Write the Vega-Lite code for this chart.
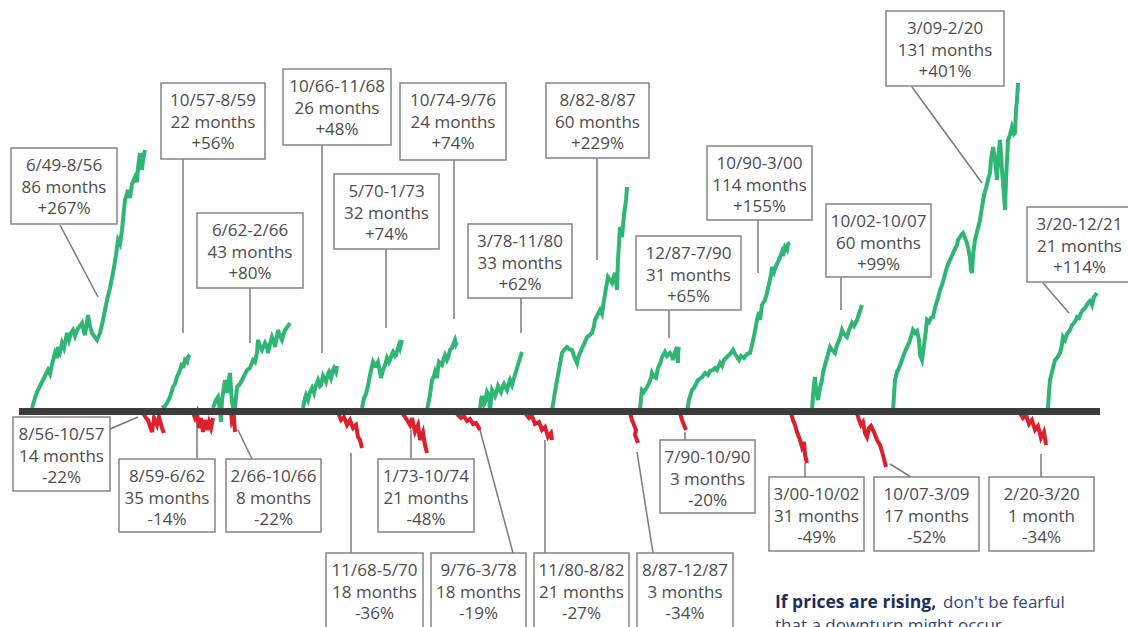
{
"$schema":"https://vega.github.io/schema/vega-lite/v6.json",
"width":1128,"height":627,"autosize":{"type":"none"},"padding":0,"background":"white",
"config":{"view":{"stroke":null}},
"datasets":{
"moves":[
{"m":"b1","k":"up","x":32,"y":408},{"m":"b1","k":"up","x":35,"y":398},{"m":"b1","k":"up","x":37,"y":392},{"m":"b1","k":"up","x":40,"y":386},{"m":"b1","k":"up","x":43,"y":380},{"m":"b1","k":"up","x":46,"y":374},{"m":"b1","k":"up","x":48,"y":370},{"m":"b1","k":"up","x":50,"y":374},{"m":"b1","k":"up","x":52,"y":364},{"m":"b1","k":"up","x":55,"y":353},{"m":"b1","k":"up","x":57,"y":358},{"m":"b1","k":"up","x":58,"y":347},{"m":"b1","k":"up","x":60,"y":352},{"m":"b1","k":"up","x":62,"y":343},{"m":"b1","k":"up","x":64,"y":348},{"m":"b1","k":"up","x":67,"y":333},{"m":"b1","k":"up","x":69,"y":340},{"m":"b1","k":"up","x":71,"y":333},{"m":"b1","k":"up","x":73,"y":330},{"m":"b1","k":"up","x":75,"y":336},{"m":"b1","k":"up","x":77,"y":330},{"m":"b1","k":"up","x":80,"y":326},{"m":"b1","k":"up","x":82,"y":323},{"m":"b1","k":"up","x":84,"y":332},{"m":"b1","k":"up","x":85,"y":335},{"m":"b1","k":"up","x":87,"y":322},{"m":"b1","k":"up","x":88,"y":315},{"m":"b1","k":"up","x":90,"y":326},{"m":"b1","k":"up","x":92,"y":333},{"m":"b1","k":"up","x":94,"y":336},{"m":"b1","k":"up","x":97,"y":340},{"m":"b1","k":"up","x":100,"y":333},{"m":"b1","k":"up","x":103,"y":320},{"m":"b1","k":"up","x":107,"y":300},{"m":"b1","k":"up","x":110,"y":288},{"m":"b1","k":"up","x":113,"y":273},{"m":"b1","k":"up","x":116,"y":255},{"m":"b1","k":"up","x":118,"y":240},{"m":"b1","k":"up","x":120,"y":244},{"m":"b1","k":"up","x":122,"y":230},{"m":"b1","k":"up","x":125,"y":200},{"m":"b1","k":"up","x":127,"y":194},{"m":"b1","k":"up","x":128,"y":190},{"m":"b1","k":"up","x":130,"y":198},{"m":"b1","k":"up","x":132,"y":184},{"m":"b1","k":"up","x":135,"y":177},{"m":"b1","k":"up","x":137,"y":182},{"m":"b1","k":"up","x":138,"y":168},{"m":"b1","k":"up","x":140,"y":153},{"m":"b1","k":"up","x":142,"y":170},{"m":"b1","k":"up","x":143,"y":160},{"m":"b1","k":"up","x":145,"y":150},
{"m":"b2","k":"up","x":162,"y":408},{"m":"b2","k":"up","x":165,"y":406},{"m":"b2","k":"up","x":167,"y":403},{"m":"b2","k":"up","x":170,"y":397},{"m":"b2","k":"up","x":173,"y":387},{"m":"b2","k":"up","x":175,"y":384},{"m":"b2","k":"up","x":177,"y":377},{"m":"b2","k":"up","x":180,"y":370},{"m":"b2","k":"up","x":182,"y":363},{"m":"b2","k":"up","x":183,"y":368},{"m":"b2","k":"up","x":185,"y":360},{"m":"b2","k":"up","x":187,"y":362},{"m":"b2","k":"up","x":188,"y":357},{"m":"b2","k":"up","x":190,"y":355},
{"m":"b3","k":"up","x":213,"y":408},{"m":"b3","k":"up","x":216,"y":400},{"m":"b3","k":"up","x":218,"y":397},{"m":"b3","k":"up","x":220,"y":410},{"m":"b3","k":"up","x":221,"y":422},{"m":"b3","k":"up","x":222,"y":400},{"m":"b3","k":"up","x":225,"y":380},{"m":"b3","k":"up","x":227,"y":393},{"m":"b3","k":"up","x":228,"y":385},{"m":"b3","k":"up","x":230,"y":373},{"m":"b3","k":"up","x":232,"y":403},{"m":"b3","k":"up","x":234,"y":410},{"m":"b3","k":"up","x":235,"y":408},{"m":"b3","k":"up","x":237,"y":387},{"m":"b3","k":"up","x":240,"y":384},{"m":"b3","k":"up","x":242,"y":380},{"m":"b3","k":"up","x":245,"y":374},{"m":"b3","k":"up","x":247,"y":370},{"m":"b3","k":"up","x":250,"y":368},{"m":"b3","k":"up","x":253,"y":360},{"m":"b3","k":"up","x":255,"y":362},{"m":"b3","k":"up","x":257,"y":353},{"m":"b3","k":"up","x":258,"y":340},{"m":"b3","k":"up","x":260,"y":346},{"m":"b3","k":"up","x":262,"y":350},{"m":"b3","k":"up","x":265,"y":343},{"m":"b3","k":"up","x":267,"y":347},{"m":"b3","k":"up","x":268,"y":353},{"m":"b3","k":"up","x":270,"y":344},{"m":"b3","k":"up","x":272,"y":337},{"m":"b3","k":"up","x":274,"y":342},{"m":"b3","k":"up","x":275,"y":347},{"m":"b3","k":"up","x":277,"y":336},{"m":"b3","k":"up","x":278,"y":330},{"m":"b3","k":"up","x":280,"y":336},{"m":"b3","k":"up","x":282,"y":340},{"m":"b3","k":"up","x":284,"y":333},{"m":"b3","k":"up","x":285,"y":330},{"m":"b3","k":"up","x":288,"y":326},{"m":"b3","k":"up","x":290,"y":323},
{"m":"b4","k":"up","x":303,"y":408},{"m":"b4","k":"up","x":305,"y":398},{"m":"b4","k":"up","x":306,"y":395},{"m":"b4","k":"up","x":308,"y":400},{"m":"b4","k":"up","x":310,"y":392},{"m":"b4","k":"up","x":312,"y":388},{"m":"b4","k":"up","x":314,"y":393},{"m":"b4","k":"up","x":316,"y":385},{"m":"b4","k":"up","x":318,"y":380},{"m":"b4","k":"up","x":320,"y":386},{"m":"b4","k":"up","x":321,"y":385},{"m":"b4","k":"up","x":323,"y":376},{"m":"b4","k":"up","x":326,"y":382},{"m":"b4","k":"up","x":328,"y":374},{"m":"b4","k":"up","x":329,"y":372},{"m":"b4","k":"up","x":331,"y":378},{"m":"b4","k":"up","x":333,"y":370},{"m":"b4","k":"up","x":334,"y":368},{"m":"b4","k":"up","x":336,"y":372},{"m":"b4","k":"up","x":337,"y":366},
{"m":"b5","k":"up","x":362,"y":408},{"m":"b5","k":"up","x":364,"y":398},{"m":"b5","k":"up","x":366,"y":394},{"m":"b5","k":"up","x":368,"y":386},{"m":"b5","k":"up","x":370,"y":375},{"m":"b5","k":"up","x":372,"y":366},{"m":"b5","k":"up","x":373,"y":362},{"m":"b5","k":"up","x":375,"y":366},{"m":"b5","k":"up","x":376,"y":366},{"m":"b5","k":"up","x":378,"y":362},{"m":"b5","k":"up","x":380,"y":372},{"m":"b5","k":"up","x":381,"y":378},{"m":"b5","k":"up","x":383,"y":370},{"m":"b5","k":"up","x":384,"y":368},{"m":"b5","k":"up","x":386,"y":362},{"m":"b5","k":"up","x":387,"y":358},{"m":"b5","k":"up","x":389,"y":362},{"m":"b5","k":"up","x":390,"y":360},{"m":"b5","k":"up","x":392,"y":354},{"m":"b5","k":"up","x":393,"y":352},{"m":"b5","k":"up","x":395,"y":356},{"m":"b5","k":"up","x":396,"y":355},{"m":"b5","k":"up","x":398,"y":348},{"m":"b5","k":"up","x":399,"y":345},{"m":"b5","k":"up","x":400,"y":348},{"m":"b5","k":"up","x":402,"y":340},
{"m":"b6","k":"up","x":427,"y":410},{"m":"b6","k":"up","x":429,"y":400},{"m":"b6","k":"up","x":430,"y":395},{"m":"b6","k":"up","x":432,"y":380},{"m":"b6","k":"up","x":434,"y":376},{"m":"b6","k":"up","x":435,"y":372},{"m":"b6","k":"up","x":437,"y":378},{"m":"b6","k":"up","x":438,"y":368},{"m":"b6","k":"up","x":439,"y":362},{"m":"b6","k":"up","x":441,"y":364},{"m":"b6","k":"up","x":442,"y":365},{"m":"b6","k":"up","x":444,"y":358},{"m":"b6","k":"up","x":445,"y":355},{"m":"b6","k":"up","x":447,"y":360},{"m":"b6","k":"up","x":448,"y":358},{"m":"b6","k":"up","x":450,"y":350},{"m":"b6","k":"up","x":452,"y":348},{"m":"b6","k":"up","x":453,"y":345},{"m":"b6","k":"up","x":455,"y":340},{"m":"b6","k":"up","x":456,"y":344},{"m":"b6","k":"up","x":457,"y":342},
{"m":"b7","k":"up","x":480,"y":410},{"m":"b7","k":"up","x":481,"y":400},{"m":"b7","k":"up","x":482,"y":396},{"m":"b7","k":"up","x":484,"y":404},{"m":"b7","k":"up","x":485,"y":402},{"m":"b7","k":"up","x":487,"y":392},{"m":"b7","k":"up","x":489,"y":396},{"m":"b7","k":"up","x":490,"y":413},{"m":"b7","k":"up","x":491,"y":398},{"m":"b7","k":"up","x":492,"y":390},{"m":"b7","k":"up","x":494,"y":394},{"m":"b7","k":"up","x":495,"y":396},{"m":"b7","k":"up","x":497,"y":390},{"m":"b7","k":"up","x":498,"y":386},{"m":"b7","k":"up","x":500,"y":390},{"m":"b7","k":"up","x":501,"y":392},{"m":"b7","k":"up","x":503,"y":386},{"m":"b7","k":"up","x":504,"y":384},{"m":"b7","k":"up","x":506,"y":388},{"m":"b7","k":"up","x":507,"y":390},{"m":"b7","k":"up","x":509,"y":383},{"m":"b7","k":"up","x":510,"y":380},{"m":"b7","k":"up","x":512,"y":385},{"m":"b7","k":"up","x":514,"y":378},{"m":"b7","k":"up","x":515,"y":375},{"m":"b7","k":"up","x":517,"y":368},{"m":"b7","k":"up","x":518,"y":365},{"m":"b7","k":"up","x":520,"y":358},{"m":"b7","k":"up","x":522,"y":352},
{"m":"b8","k":"up","x":552,"y":410},{"m":"b8","k":"up","x":554,"y":398},{"m":"b8","k":"up","x":557,"y":380},{"m":"b8","k":"up","x":559,"y":370},{"m":"b8","k":"up","x":562,"y":353},{"m":"b8","k":"up","x":564,"y":350},{"m":"b8","k":"up","x":567,"y":347},{"m":"b8","k":"up","x":569,"y":349},{"m":"b8","k":"up","x":572,"y":350},{"m":"b8","k":"up","x":574,"y":356},{"m":"b8","k":"up","x":577,"y":363},{"m":"b8","k":"up","x":578,"y":358},{"m":"b8","k":"up","x":580,"y":353},{"m":"b8","k":"up","x":583,"y":346},{"m":"b8","k":"up","x":585,"y":342},{"m":"b8","k":"up","x":587,"y":337},{"m":"b8","k":"up","x":590,"y":335},{"m":"b8","k":"up","x":592,"y":333},{"m":"b8","k":"up","x":594,"y":326},{"m":"b8","k":"up","x":595,"y":320},{"m":"b8","k":"up","x":597,"y":316},{"m":"b8","k":"up","x":600,"y":310},{"m":"b8","k":"up","x":602,"y":314},{"m":"b8","k":"up","x":604,"y":300},{"m":"b8","k":"up","x":606,"y":288},{"m":"b8","k":"up","x":608,"y":277},{"m":"b8","k":"up","x":610,"y":280},{"m":"b8","k":"up","x":612,"y":283},{"m":"b8","k":"up","x":614,"y":276},{"m":"b8","k":"up","x":615,"y":273},{"m":"b8","k":"up","x":617,"y":290},{"m":"b8","k":"up","x":618,"y":260},{"m":"b8","k":"up","x":620,"y":227},{"m":"b8","k":"up","x":622,"y":237},{"m":"b8","k":"up","x":624,"y":215},{"m":"b8","k":"up","x":626,"y":200},{"m":"b8","k":"up","x":627,"y":187},
{"m":"b9","k":"up","x":640,"y":410},{"m":"b9","k":"up","x":641,"y":398},{"m":"b9","k":"up","x":642,"y":390},{"m":"b9","k":"up","x":644,"y":392},{"m":"b9","k":"up","x":647,"y":387},{"m":"b9","k":"up","x":649,"y":383},{"m":"b9","k":"up","x":651,"y":378},{"m":"b9","k":"up","x":652,"y":373},{"m":"b9","k":"up","x":654,"y":377},{"m":"b9","k":"up","x":656,"y":378},{"m":"b9","k":"up","x":658,"y":368},{"m":"b9","k":"up","x":660,"y":364},{"m":"b9","k":"up","x":662,"y":357},{"m":"b9","k":"up","x":664,"y":354},{"m":"b9","k":"up","x":665,"y":352},{"m":"b9","k":"up","x":667,"y":356},{"m":"b9","k":"up","x":670,"y":353},{"m":"b9","k":"up","x":672,"y":356},{"m":"b9","k":"up","x":673,"y":360},{"m":"b9","k":"up","x":675,"y":352},{"m":"b9","k":"up","x":677,"y":347},{"m":"b9","k":"up","x":678,"y":363},{"m":"b9","k":"up","x":678,"y":352},{"m":"b9","k":"up","x":679,"y":347},
{"m":"b10","k":"up","x":687,"y":412},{"m":"b10","k":"up","x":689,"y":400},{"m":"b10","k":"up","x":692,"y":390},{"m":"b10","k":"up","x":694,"y":388},{"m":"b10","k":"up","x":696,"y":384},{"m":"b10","k":"up","x":698,"y":380},{"m":"b10","k":"up","x":701,"y":378},{"m":"b10","k":"up","x":703,"y":376},{"m":"b10","k":"up","x":705,"y":373},{"m":"b10","k":"up","x":708,"y":375},{"m":"b10","k":"up","x":710,"y":371},{"m":"b10","k":"up","x":713,"y":370},{"m":"b10","k":"up","x":715,"y":368},{"m":"b10","k":"up","x":717,"y":370},{"m":"b10","k":"up","x":720,"y":363},{"m":"b10","k":"up","x":722,"y":366},{"m":"b10","k":"up","x":724,"y":360},{"m":"b10","k":"up","x":727,"y":357},{"m":"b10","k":"up","x":729,"y":355},{"m":"b10","k":"up","x":731,"y":353},{"m":"b10","k":"up","x":733,"y":350},{"m":"b10","k":"up","x":735,"y":354},{"m":"b10","k":"up","x":737,"y":357},{"m":"b10","k":"up","x":739,"y":360},{"m":"b10","k":"up","x":741,"y":356},{"m":"b10","k":"up","x":744,"y":358},{"m":"b10","k":"up","x":747,"y":354},{"m":"b10","k":"up","x":750,"y":353},{"m":"b10","k":"up","x":752,"y":345},{"m":"b10","k":"up","x":754,"y":336},{"m":"b10","k":"up","x":757,"y":320},{"m":"b10","k":"up","x":759,"y":312},{"m":"b10","k":"up","x":760,"y":320},{"m":"b10","k":"up","x":762,"y":305},{"m":"b10","k":"up","x":765,"y":300},{"m":"b10","k":"up","x":767,"y":293},{"m":"b10","k":"up","x":769,"y":284},{"m":"b10","k":"up","x":771,"y":275},{"m":"b10","k":"up","x":772,"y":267},{"m":"b10","k":"up","x":774,"y":272},{"m":"b10","k":"up","x":776,"y":266},{"m":"b10","k":"up","x":778,"y":262},{"m":"b10","k":"up","x":780,"y":257},{"m":"b10","k":"up","x":782,"y":252},{"m":"b10","k":"up","x":783,"y":256},{"m":"b10","k":"up","x":785,"y":247},{"m":"b10","k":"up","x":787,"y":250},{"m":"b10","k":"up","x":788,"y":244},{"m":"b10","k":"up","x":790,"y":243},
{"m":"b11","k":"up","x":812,"y":410},{"m":"b11","k":"up","x":813,"y":395},{"m":"b11","k":"up","x":815,"y":377},{"m":"b11","k":"up","x":816,"y":390},{"m":"b11","k":"up","x":818,"y":400},{"m":"b11","k":"up","x":820,"y":388},{"m":"b11","k":"up","x":822,"y":380},{"m":"b11","k":"up","x":823,"y":373},{"m":"b11","k":"up","x":825,"y":365},{"m":"b11","k":"up","x":827,"y":358},{"m":"b11","k":"up","x":830,"y":347},{"m":"b11","k":"up","x":832,"y":350},{"m":"b11","k":"up","x":835,"y":353},{"m":"b11","k":"up","x":837,"y":345},{"m":"b11","k":"up","x":840,"y":338},{"m":"b11","k":"up","x":842,"y":330},{"m":"b11","k":"up","x":844,"y":334},{"m":"b11","k":"up","x":847,"y":337},{"m":"b11","k":"up","x":849,"y":330},{"m":"b11","k":"up","x":852,"y":323},{"m":"b11","k":"up","x":854,"y":326},{"m":"b11","k":"up","x":857,"y":320},{"m":"b11","k":"up","x":859,"y":314},{"m":"b11","k":"up","x":862,"y":305},
{"m":"b12","k":"up","x":893,"y":412},{"m":"b12","k":"up","x":894,"y":395},{"m":"b12","k":"up","x":895,"y":380},{"m":"b12","k":"up","x":897,"y":372},{"m":"b12","k":"up","x":899,"y":368},{"m":"b12","k":"up","x":902,"y":360},{"m":"b12","k":"up","x":904,"y":354},{"m":"b12","k":"up","x":907,"y":347},{"m":"b12","k":"up","x":909,"y":343},{"m":"b12","k":"up","x":911,"y":337},{"m":"b12","k":"up","x":913,"y":330},{"m":"b12","k":"up","x":915,"y":333},{"m":"b12","k":"up","x":917,"y":331},{"m":"b12","k":"up","x":919,"y":340},{"m":"b12","k":"up","x":920,"y":355},{"m":"b12","k":"up","x":922,"y":360},{"m":"b12","k":"up","x":924,"y":345},{"m":"b12","k":"up","x":926,"y":330},{"m":"b12","k":"up","x":927,"y":320},{"m":"b12","k":"up","x":929,"y":322},{"m":"b12","k":"up","x":931,"y":318},{"m":"b12","k":"up","x":933,"y":317},{"m":"b12","k":"up","x":935,"y":308},{"m":"b12","k":"up","x":938,"y":298},{"m":"b12","k":"up","x":940,"y":290},{"m":"b12","k":"up","x":942,"y":285},{"m":"b12","k":"up","x":944,"y":278},{"m":"b12","k":"up","x":947,"y":267},{"m":"b12","k":"up","x":949,"y":262},{"m":"b12","k":"up","x":951,"y":258},{"m":"b12","k":"up","x":953,"y":253},{"m":"b12","k":"up","x":955,"y":249},{"m":"b12","k":"up","x":957,"y":245},{"m":"b12","k":"up","x":958,"y":240},{"m":"b12","k":"up","x":960,"y":237},{"m":"b12","k":"up","x":962,"y":234},{"m":"b12","k":"up","x":963,"y":233},{"m":"b12","k":"up","x":965,"y":238},{"m":"b12","k":"up","x":967,"y":243},{"m":"b12","k":"up","x":968,"y":247},{"m":"b12","k":"up","x":970,"y":258},{"m":"b12","k":"up","x":971,"y":270},{"m":"b12","k":"up","x":972,"y":273},{"m":"b12","k":"up","x":973,"y":255},{"m":"b12","k":"up","x":975,"y":240},{"m":"b12","k":"up","x":977,"y":232},{"m":"b12","k":"up","x":980,"y":220},{"m":"b12","k":"up","x":982,"y":207},{"m":"b12","k":"up","x":984,"y":195},{"m":"b12","k":"up","x":986,"y":188},{"m":"b12","k":"up","x":988,"y":180},{"m":"b12","k":"up","x":990,"y":173},{"m":"b12","k":"up","x":991,"y":160},{"m":"b12","k":"up","x":993,"y":147},{"m":"b12","k":"up","x":995,"y":160},{"m":"b12","k":"up","x":997,"y":180},{"m":"b12","k":"up","x":998,"y":160},{"m":"b12","k":"up","x":1000,"y":140},{"m":"b12","k":"up","x":1002,"y":170},{"m":"b12","k":"up","x":1004,"y":195},{"m":"b12","k":"up","x":1005,"y":210},{"m":"b12","k":"up","x":1006,"y":180},{"m":"b12","k":"up","x":1008,"y":140},{"m":"b12","k":"up","x":1010,"y":135},{"m":"b12","k":"up","x":1012,"y":127},{"m":"b12","k":"up","x":1014,"y":134},{"m":"b12","k":"up","x":1015,"y":133},{"m":"b12","k":"up","x":1016,"y":110},{"m":"b12","k":"up","x":1017,"y":100},{"m":"b12","k":"up","x":1018,"y":83},
{"m":"b13","k":"up","x":1048,"y":408},{"m":"b13","k":"up","x":1049,"y":392},{"m":"b13","k":"up","x":1050,"y":380},{"m":"b13","k":"up","x":1052,"y":372},{"m":"b13","k":"up","x":1055,"y":360},{"m":"b13","k":"up","x":1057,"y":358},{"m":"b13","k":"up","x":1060,"y":353},{"m":"b13","k":"up","x":1062,"y":345},{"m":"b13","k":"up","x":1063,"y":337},{"m":"b13","k":"up","x":1065,"y":340},{"m":"b13","k":"up","x":1067,"y":334},{"m":"b13","k":"up","x":1070,"y":330},{"m":"b13","k":"up","x":1072,"y":325},{"m":"b13","k":"up","x":1075,"y":322},{"m":"b13","k":"up","x":1077,"y":317},{"m":"b13","k":"up","x":1079,"y":318},{"m":"b13","k":"up","x":1081,"y":313},{"m":"b13","k":"up","x":1083,"y":310},{"m":"b13","k":"up","x":1085,"y":308},{"m":"b13","k":"up","x":1088,"y":303},{"m":"b13","k":"up","x":1090,"y":301},{"m":"b13","k":"up","x":1092,"y":305},{"m":"b13","k":"up","x":1094,"y":297},{"m":"b13","k":"up","x":1097,"y":293},
{"m":"r1","k":"down","x":143,"y":413},{"m":"r1","k":"down","x":146,"y":418},{"m":"r1","k":"down","x":148,"y":420},{"m":"r1","k":"down","x":150,"y":426},{"m":"r1","k":"down","x":152,"y":432},{"m":"r1","k":"down","x":154,"y":418},{"m":"r1","k":"down","x":157,"y":425},{"m":"r1","k":"down","x":159,"y":417},{"m":"r1","k":"down","x":162,"y":428},{"m":"r1","k":"down","x":164,"y":433},
{"m":"r2","k":"down","x":192,"y":410},{"m":"r2","k":"down","x":195,"y":418},{"m":"r2","k":"down","x":197,"y":413},{"m":"r2","k":"down","x":199,"y":428},{"m":"r2","k":"down","x":201,"y":418},{"m":"r2","k":"down","x":203,"y":432},{"m":"r2","k":"down","x":205,"y":420},{"m":"r2","k":"down","x":207,"y":430},{"m":"r2","k":"down","x":209,"y":422},{"m":"r2","k":"down","x":211,"y":428},{"m":"r2","k":"down","x":213,"y":418},
{"m":"r3","k":"down","x":231,"y":412},{"m":"r3","k":"down","x":232,"y":422},{"m":"r3","k":"down","x":234,"y":418},{"m":"r3","k":"down","x":235,"y":432},
{"m":"r4","k":"down","x":338,"y":412},{"m":"r4","k":"down","x":341,"y":420},{"m":"r4","k":"down","x":344,"y":417},{"m":"r4","k":"down","x":347,"y":425},{"m":"r4","k":"down","x":350,"y":420},{"m":"r4","k":"down","x":353,"y":428},{"m":"r4","k":"down","x":356,"y":425},{"m":"r4","k":"down","x":358,"y":437},{"m":"r4","k":"down","x":360,"y":440},{"m":"r4","k":"down","x":362,"y":448},
{"m":"r5","k":"down","x":403,"y":414},{"m":"r5","k":"down","x":407,"y":420},{"m":"r5","k":"down","x":410,"y":425},{"m":"r5","k":"down","x":412,"y":418},{"m":"r5","k":"down","x":415,"y":432},{"m":"r5","k":"down","x":418,"y":425},{"m":"r5","k":"down","x":420,"y":440},{"m":"r5","k":"down","x":423,"y":432},{"m":"r5","k":"down","x":425,"y":445},{"m":"r5","k":"down","x":427,"y":453},
{"m":"r6","k":"down","x":457,"y":414},{"m":"r6","k":"down","x":461,"y":418},{"m":"r6","k":"down","x":464,"y":416},{"m":"r6","k":"down","x":467,"y":421},{"m":"r6","k":"down","x":470,"y":419},{"m":"r6","k":"down","x":473,"y":424},{"m":"r6","k":"down","x":476,"y":423},{"m":"r6","k":"down","x":479,"y":428},{"m":"r6","k":"down","x":480,"y":430},
{"m":"r7","k":"down","x":525,"y":413},{"m":"r7","k":"down","x":529,"y":418},{"m":"r7","k":"down","x":532,"y":416},{"m":"r7","k":"down","x":535,"y":424},{"m":"r7","k":"down","x":539,"y":422},{"m":"r7","k":"down","x":542,"y":430},{"m":"r7","k":"down","x":545,"y":427},{"m":"r7","k":"down","x":548,"y":437},{"m":"r7","k":"down","x":551,"y":433},{"m":"r7","k":"down","x":552,"y":440},
{"m":"r8","k":"down","x":630,"y":413},{"m":"r8","k":"down","x":632,"y":420},{"m":"r8","k":"down","x":634,"y":425},{"m":"r8","k":"down","x":636,"y":430},{"m":"r8","k":"down","x":635,"y":435},{"m":"r8","k":"down","x":637,"y":440},{"m":"r8","k":"down","x":638,"y":443},
{"m":"r9","k":"down","x":680,"y":413},{"m":"r9","k":"down","x":682,"y":420},{"m":"r9","k":"down","x":684,"y":425},{"m":"r9","k":"down","x":686,"y":430},
{"m":"r10","k":"down","x":791,"y":413},{"m":"r10","k":"down","x":793,"y":420},{"m":"r10","k":"down","x":795,"y":425},{"m":"r10","k":"down","x":797,"y":432},{"m":"r10","k":"down","x":800,"y":440},{"m":"r10","k":"down","x":802,"y":447},{"m":"r10","k":"down","x":804,"y":442},{"m":"r10","k":"down","x":805,"y":455},{"m":"r10","k":"down","x":807,"y":463},
{"m":"r11","k":"down","x":857,"y":413},{"m":"r11","k":"down","x":859,"y":420},{"m":"r11","k":"down","x":861,"y":425},{"m":"r11","k":"down","x":863,"y":422},{"m":"r11","k":"down","x":865,"y":433},{"m":"r11","k":"down","x":867,"y":437},{"m":"r11","k":"down","x":869,"y":428},{"m":"r11","k":"down","x":871,"y":426},{"m":"r11","k":"down","x":874,"y":432},{"m":"r11","k":"down","x":877,"y":440},{"m":"r11","k":"down","x":880,"y":445},{"m":"r11","k":"down","x":883,"y":455},{"m":"r11","k":"down","x":886,"y":467},
{"m":"r12","k":"down","x":1019,"y":412},{"m":"r12","k":"down","x":1023,"y":418},{"m":"r12","k":"down","x":1026,"y":415},{"m":"r12","k":"down","x":1029,"y":424},{"m":"r12","k":"down","x":1032,"y":420},{"m":"r12","k":"down","x":1035,"y":430},{"m":"r12","k":"down","x":1038,"y":426},{"m":"r12","k":"down","x":1041,"y":438},{"m":"r12","k":"down","x":1044,"y":432},{"m":"r12","k":"down","x":1046,"y":445}
],
"boxes":[
{"t":"6/49-8/56|86 months|+267%","x1":11,"x2":117,"y1":148,"y2":224},
{"t":"10/57-8/59|22 months|+56%","x1":161,"x2":265,"y1":83,"y2":159},
{"t":"6/62-2/66|43 months|+80%","x1":197,"x2":303,"y1":213,"y2":288},
{"t":"10/66-11/68|26 months|+48%","x1":283,"x2":391,"y1":69,"y2":145},
{"t":"5/70-1/73|32 months|+74%","x1":334,"x2":439,"y1":174,"y2":249},
{"t":"10/74-9/76|24 months|+74%","x1":400,"x2":506,"y1":83,"y2":160},
{"t":"3/78-11/80|33 months|+62%","x1":468,"x2":572,"y1":224,"y2":298},
{"t":"8/82-8/87|60 months|+229%","x1":546,"x2":649,"y1":83,"y2":158},
{"t":"12/87-7/90|31 months|+65%","x1":636,"x2":741,"y1":236,"y2":310},
{"t":"10/90-3/00|114 months|+155%","x1":707,"x2":812,"y1":146,"y2":220},
{"t":"10/02-10/07|60 months|+99%","x1":826,"x2":931,"y1":204,"y2":277},
{"t":"3/09-2/20|131 months|+401%","x1":886,"x2":1004,"y1":11,"y2":86},
{"t":"3/20-12/21|21 months|+114%","x1":1027,"x2":1132,"y1":207,"y2":282},
{"t":"8/56-10/57|14 months|-22%","x1":13,"x2":110,"y1":417,"y2":491},
{"t":"8/59-6/62|35 months|-14%","x1":119,"x2":215,"y1":459,"y2":532},
{"t":"2/66-10/66|8 months|-22%","x1":226,"x2":321,"y1":459,"y2":532},
{"t":"11/68-5/70|18 months|-36%","x1":326,"x2":423,"y1":553,"y2":628},
{"t":"1/73-10/74|21 months|-48%","x1":378,"x2":474,"y1":459,"y2":532},
{"t":"9/76-3/78|18 months|-19%","x1":431,"x2":526,"y1":553,"y2":628},
{"t":"11/80-8/82|21 months|-27%","x1":534,"x2":629,"y1":553,"y2":628},
{"t":"8/87-12/87|3 months|-34%","x1":637,"x2":733,"y1":553,"y2":628},
{"t":"7/90-10/90|3 months|-20%","x1":660,"x2":755,"y1":440,"y2":513},
{"t":"3/00-10/02|31 months|-49%","x1":769,"x2":864,"y1":477,"y2":551},
{"t":"10/07-3/09|17 months|-52%","x1":874,"x2":979,"y1":477,"y2":551},
{"t":"2/20-3/20|1 month|-34%","x1":989,"x2":1094,"y1":477,"y2":551}
],
"leaders":[
{"x":60,"y":225,"x2":98,"y2":297},{"x":183,"y":159,"x2":183,"y2":333},{"x":250,"y":288,"x2":250,"y2":343},{"x":322,"y":145,"x2":322,"y2":353},{"x":386,"y":249,"x2":386,"y2":328},{"x":454,"y":160,"x2":454,"y2":319},{"x":521,"y":298,"x2":521,"y2":333},{"x":597,"y":158,"x2":597,"y2":260},{"x":669,"y":310,"x2":669,"y2":338},{"x":758,"y":220,"x2":758,"y2":273},{"x":841,"y":277,"x2":841,"y2":310},{"x":912,"y":87,"x2":982,"y2":183},{"x":1043,"y":283,"x2":1069,"y2":313},
{"x":110,"y":429,"x2":138,"y2":417},{"x":197,"y":459,"x2":197,"y2":423},{"x":252,"y":459,"x2":238,"y2":430},{"x":351,"y":553,"x2":351,"y2":453},{"x":411,"y":459,"x2":411,"y2":430},{"x":513,"y":553,"x2":480,"y2":430},{"x":545,"y":553,"x2":545,"y2":440},{"x":653,"y":553,"x2":637,"y2":452},{"x":685,"y":440,"x2":685,"y2":432},{"x":805,"y":477,"x2":805,"y2":463},{"x":911,"y":477,"x2":890,"y2":464},{"x":1041,"y":477,"x2":1041,"y2":454}
]
},
"encoding":{
"x":{"field":"x","type":"quantitative","scale":{"domain":[0,1128],"nice":false,"zero":false},"axis":null},
"y":{"field":"y","type":"quantitative","scale":{"domain":[0,627],"reverse":true,"nice":false,"zero":false},"axis":null}
},
"layer":[
{"data":{"name":"leaders"},"mark":{"type":"rule","color":"#7a7a7a","strokeWidth":1.5},
 "encoding":{"x2":{"field":"x2"},"y2":{"field":"y2"}}},
{"data":{"name":"moves"},"mark":{"type":"line","strokeWidth":4,"strokeJoin":"miter"},
 "encoding":{"detail":{"field":"m","type":"nominal"},
  "color":{"field":"k","type":"nominal","scale":{"domain":["up","down"],"range":["#2fb674","#de1f2c"]},"legend":null},
  "order":{"value":null}}},
{"data":{"values":[{"x":19,"x2":1100,"y":411.5}]},"mark":{"type":"rule","color":"#3c3c3c","strokeWidth":7,"strokeCap":"butt"},
 "encoding":{"x2":{"field":"x2"}}},
{"data":{"name":"boxes"},"mark":{"type":"rect","fill":"white","stroke":"#858585","strokeWidth":1.5,"clip":true},
 "encoding":{"x":{"field":"x1","type":"quantitative"},"x2":{"field":"x2"},"y":{"field":"y1","type":"quantitative"},"y2":{"field":"y2"}}},
{"data":{"name":"boxes"},"transform":[{"calculate":"(datum.x1+datum.x2)/2","as":"x"},{"calculate":"datum.y1+18","as":"y"}],
 "mark":{"type":"text","font":"Open Sans","fontSize":17,"lineBreak":"|","lineHeight":21.5,"align":"center","baseline":"middle","color":"#4d4d4d"},
 "encoding":{"text":{"field":"t"}}},
{"data":{"values":[{"t":"If prices are rising,","x":775,"y":608}]},
 "mark":{"type":"text","font":"Open Sans","fontSize":17.5,"fontWeight":"bold","align":"left","baseline":"alphabetic","color":"#1e2d5e"},
 "encoding":{"text":{"field":"t"}}},
{"data":{"values":[{"t":"don't be fearful","x":943,"y":608},{"t":"that a downturn might occur","x":775,"y":631}]},
 "mark":{"type":"text","font":"Open Sans","fontSize":17,"align":"left","baseline":"alphabetic","color":"#34467a"},
 "encoding":{"text":{"field":"t"}}}
]
}
